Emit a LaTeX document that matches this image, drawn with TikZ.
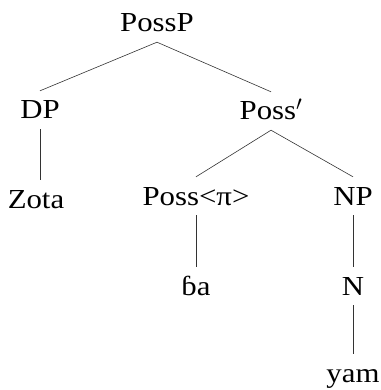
\documentclass[tikz,border=0pt]{standalone}
\usepackage{fontspec}
\setmainfont{Liberation Serif}[FakeStretch=1.12]
\begin{document}
\begin{tikzpicture}[x=1pt,y=-1pt,
		cat/.style={anchor=base,inner xsep=0pt,inner ysep=10pt,text height=18pt,text depth=0pt,font=\fontsize{27.5}{32}\selectfont},
		branch/.style={draw=black!80,line width=0.6pt}]
					\useasboundingbox (0,0) rectangle (380,390);
					\node[cat] (possp) at (157,32) {PossP};
					\node[cat] (dp) at (40,119) {DP};
					\node[cat] (possbar) at (271,120) {Poss$'$};
					\node[cat] (zota) at (36,208) {Zota};
					\node[cat] (posshead) at (196,205) {Poss<π>};
					\node[cat] (np) at (353,205) {NP};
					\node[cat] (ba) at (196,295) {ɓa};
					\node[cat] (n) at (353,295) {N};
					\node[cat] (yam) at (353,382) {yam};
					\draw[branch] (possp.south) -- (dp.north);
					\draw[branch] (possp.south) -- (possbar.north);
					\draw[branch] (dp.south) -- (dp.south |- zota.north);
					\draw[branch] (possbar.south) -- (posshead.north);
					\draw[branch] (possbar.south) -- (np.north);
					\draw[branch] (posshead.south) -- (ba.north);
					\draw[branch] (np.south) -- (n.north);
					\draw[branch] (n.south) -- (yam.north);
				\end{tikzpicture}
\end{document}
